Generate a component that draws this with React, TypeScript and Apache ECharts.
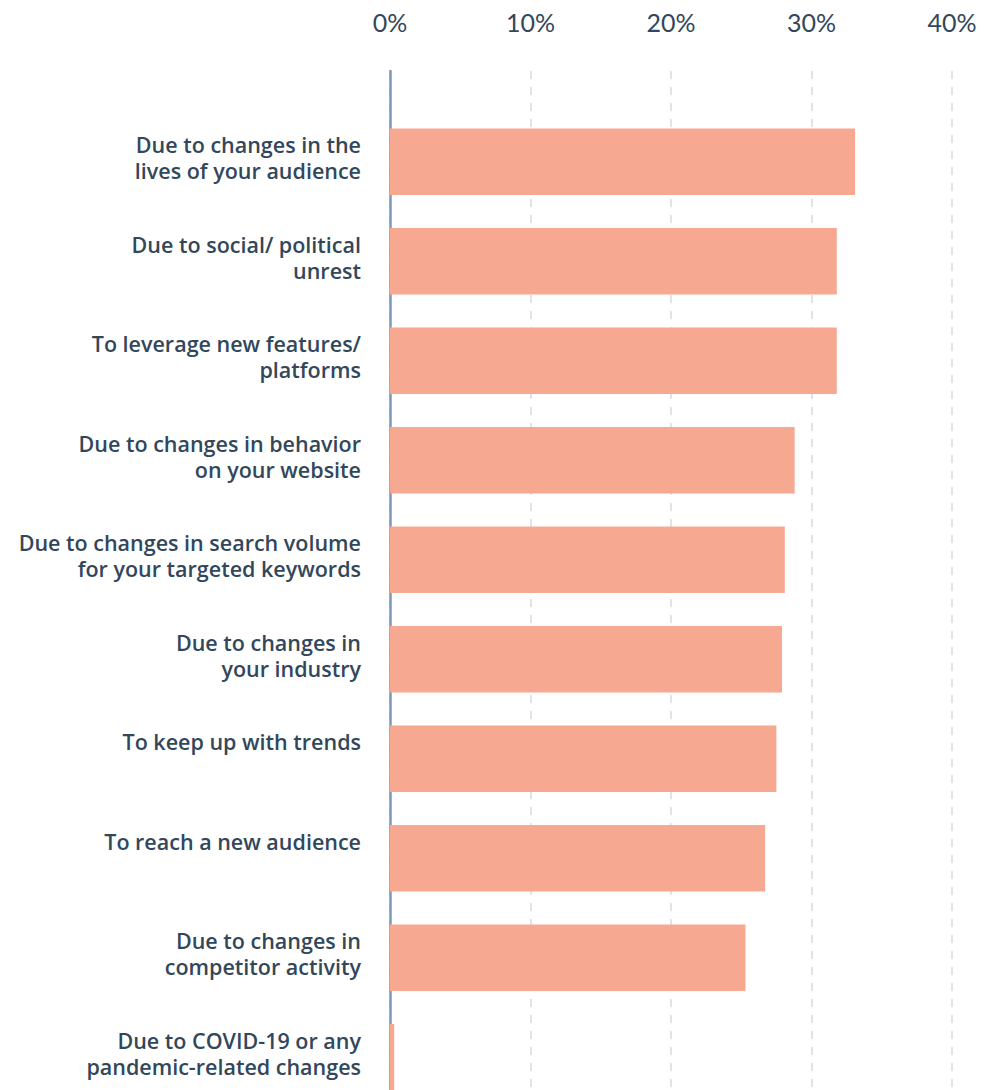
import React, { useEffect, useRef } from "react";
import * as echarts from "echarts";

const categories: string[] = [
  "Due to changes in the\nlives of your audience",
  "Due to social/ political\nunrest",
  "To leverage new features/\nplatforms",
  "Due to changes in behavior\non your website",
  "Due to changes in search volume\nfor your targeted keywords",
  "Due to changes in\nyour industry",
  "To keep up with trends",
  "To reach a new audience",
  "Due to changes in\ncompetitor activity",
  "Due to COVID-19 or any\npandemic-related changes",
];
const values: number[] = [33.1, 31.8, 31.8, 28.8, 28.1, 27.9, 27.5, 26.7, 25.3, 0.3];
const tickValues: number[] = [0, 10, 20, 30, 40];

const TEXT = "#33475b";
const LABEL_FONT = "'Open Sans', sans-serif";

export default function App() {
  const ref = useRef<HTMLDivElement>(null);
  useEffect(() => {
    document.body.style.margin = "0";
    document.body.style.overflow = "hidden";
    const chart = echarts.init(ref.current!, undefined, { renderer: "svg" });
    const left = 390;
    const width = 562;
    const lineStyle = {
      fontSize: 21.5,
      fontWeight: 600,
      fontFamily: LABEL_FONT,
      color: TEXT,
      lineHeight: 26,
      align: "right",
    };
    const option: any = {
      animation: false,
      backgroundColor: "#ffffff",
      grid: [
        { left, width, top: 112, height: 995 },
        { left, width, top: 71, height: 1036 },
      ],
      xAxis: [
        {
          gridIndex: 0,
          type: "value",
          min: tickValues[0],
          max: tickValues[tickValues.length - 1],
          interval: 10,
          show: false,
        },
        {
          gridIndex: 1,
          type: "value",
          position: "top",
          min: tickValues[0],
          max: tickValues[tickValues.length - 1],
          interval: 10,
          axisLine: { show: false },
          axisTick: { show: false },
          axisLabel: {
            margin: 37,
            color: TEXT,
            fontSize: 25,
            fontWeight: "normal",
            fontFamily: "Lato, sans-serif",
            formatter: (v: number) => `${v}%`,
          },
          splitLine: {
            show: true,
            lineStyle: { color: "#dfe3eb", width: 2, type: [8, 8] },
          },
        },
      ],
      yAxis: [
        {
          gridIndex: 0,
          type: "category",
          inverse: true,
          data: categories,
          axisLine: { show: false },
          axisTick: { show: false },
          axisLabel: {
            margin: 29,
            color: TEXT,
            fontSize: 21.5,
            fontWeight: 600,
            fontFamily: LABEL_FONT,
            lineHeight: 26,
            align: "right",
            formatter: (v: string) => {
              const lines = v.split("\n");
              const body = lines.map((l) => `{a|${l}}`).join("\n");
              return lines.length > 1 ? `${body}\n{s|}` : `${body}\n{t|}`;
            },
            rich: {
              a: lineStyle,
              s: { ...lineStyle, fontSize: 4, lineHeight: 8 },
              t: { ...lineStyle, fontSize: 4, lineHeight: 34 },
            },
          },
        },
        {
          gridIndex: 1,
          type: "value",
          axisLine: { show: true, onZero: false, lineStyle: { color: "#7c98b6", width: 2.5 } },
          axisTick: { show: false },
          axisLabel: { show: false },
          splitLine: { show: false },
        },
      ],
      series: [
        {
          type: "bar",
          xAxisIndex: 0,
          yAxisIndex: 0,
          data: values,
          barCategoryGap: "33%",
          itemStyle: { color: "#f7a891" },
          z: 3,
        },
      ],
    };
    chart.setOption(option);
    return () => chart.dispose();
  }, []);
  return <div ref={ref} style={{ width: 1007, height: 1130 }} />;
}
